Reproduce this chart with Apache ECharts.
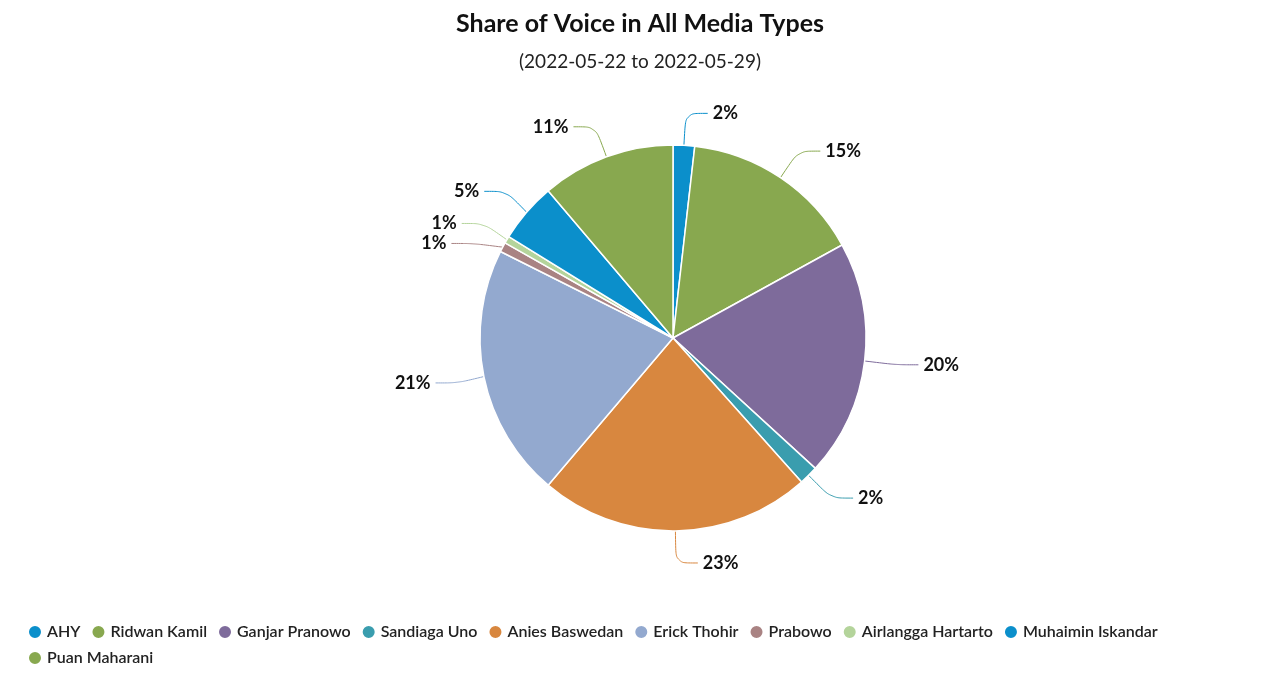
<!DOCTYPE html>
<html>
<head>
<meta charset="utf-8">
<script src="https://cdn.jsdelivr.net/npm/echarts@6/dist/echarts.min.js"></script>
<style>html,body{margin:0;padding:0;background:#fff}#chartArea{width:1280px;height:682px}</style>
</head>
<body>
<div id="chartArea"></div>
<script>
let names = ['AHY', 'Ridwan Kamil', 'Ganjar Pranowo', 'Sandiaga Uno', 'Anies Baswedan', 'Erick Thohir',
    'Prabowo', 'Airlangga Hartarto', 'Muhaimin Iskandar', 'Puan Maharani'];
let values = [1.8, 15.2, 19.8, 1.6, 22.8, 21.2, 0.8, 0.6, 5.0, 11.2];
let colors = ['#0b8fcb', '#88a84f', '#7e6b9b', '#3a9dae', '#d8873f', '#93a9cf',
    '#a98383', '#b4d49b', '#0b8fcb', '#88a84f'];

let myChart = echarts.init(document.getElementById('chartArea'));
let data = [];
for (let i = 0; i < names.length; i++) {
    data.push({name: names[i], value: values[i], itemStyle: {color: colors[i]}});
}
let option = {
    animation: false,
    title: {
        text: 'Share of Voice in All Media Types',
        subtext: '(2022-05-22 to 2022-05-29)',
        left: 'center',
        top: 6,
        itemGap: 16,
        textStyle: {fontFamily: 'Lato', fontSize: 25, fontWeight: 'bold', color: '#111'},
        subtextStyle: {fontFamily: 'Lato', fontSize: 19, color: '#222'}
    },
    legend: {
        left: 22,
        top: 619,
        width: 1260,
        itemWidth: 14,
        itemHeight: 14,
        itemGap: 10,
        icon: 'circle',
        formatter: '{a|{name}}',
        textStyle: {
            rich: {a: {fontFamily: 'Lato', fontSize: 16, fontWeight: 600, color: '#222', width: 192}}
        }
    },
    series: [{
        type: 'pie',
        center: [673, 338],
        radius: 193,
        startAngle: 90,
        clockwise: true,
        data: data,
        itemStyle: {borderColor: '#fff', borderWidth: 1.5},
        label: {
            formatter: function (p) { return Math.round(p.value) + '%'; },
            fontFamily: 'Lato', fontSize: 18, fontWeight: 'bold', color: '#111'
        },
        labelLine: {length: 32, length2: 22, smooth: true, lineStyle: {width: 1}}
    }]
};
myChart.setOption(option);
</script>
</body>
</html>
